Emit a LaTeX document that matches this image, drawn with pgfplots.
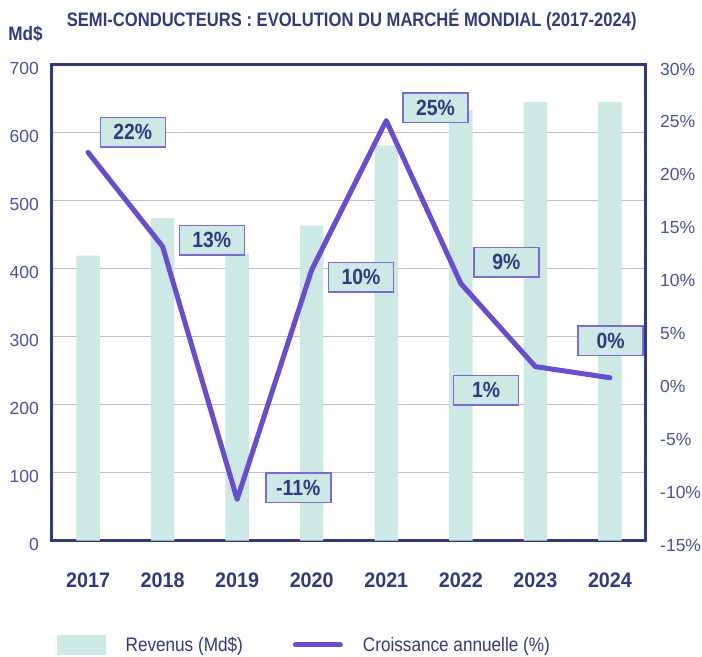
\documentclass[border=0pt]{standalone}
\usepackage{pgfplots}
\pgfplotsset{compat=1.18}
\usepackage{fontspec}
\setmainfont{Liberation Sans}
\newfontfamily\titf{Liberation Sans}[FakeStretch=0.851]
\newfontfamily\tickb{Liberation Sans}[FakeStretch=0.94]
\newfontfamily\mdf{Liberation Sans}[FakeStretch=0.88]
\newfontfamily\labf{Liberation Sans}[FakeStretch=0.88]
\newfontfamily\legf{Liberation Sans}[FakeStretch=0.88]
\usetikzlibrary{calc}
\definecolor{navy}{RGB}{46,58,132}
\definecolor{ticknavy}{RGB}{72,82,152}
\definecolor{lpurple}{RGB}{106,76,212}
\definecolor{bteal}{RGB}{204,233,227}
\definecolor{bpurple}{RGB}{125,105,220}
\definecolor{gridgray}{RGB}{192,192,192}
\tikzset{
  lbl/.style={draw=bpurple, line width=1.5pt, fill=bteal, text=navy,
    minimum width=65pt, minimum height=29.5pt, inner sep=0pt,
    font=\labf\bfseries\fontsize{22}{24}\selectfont}
}
\begin{document}
\begin{tikzpicture}
\pgfplotsset{
  every axis/.append style={width=593.5pt, height=476.2pt, scale only axis,
    xmin=-0.49, xmax=7.47, major tick length=0pt,
    /pgf/number format/assume math mode=true}
}
\begin{axis}[name=ax1,
  ymin=0, ymax=700, ytick={0,100,...,700},
  ymajorgrids, grid style={gridgray, line width=1.2pt},
  axis line style={navy, line width=3pt},
  xtick={0,...,7},
  xticklabels={2017,2018,2019,2020,2021,2022,2023,2024},
  xticklabel style={anchor=center, inner sep=0pt, yshift=-40pt, text=navy,
    font=\tickb\bfseries\fontsize{21}{24}\selectfont},
  yticklabel style={anchor=east, inner sep=0pt, xshift=-12.5pt, yshift=-4pt, text=ticknavy,
    font=\fontsize{17.5}{20}\selectfont},
]
\addplot[ybar, bar width=23.5pt, fill=bteal, draw=none] coordinates {
  (0,419) (1,474) (2,422) (3,463) (4,581) (5,633) (6,645) (7,645)};
\end{axis}
\begin{axis}[
  ymin=-15, ymax=30, ytick={-15,-10,...,30},
  axis x line=none, axis y line*=right,
  y axis line style={draw=none},
  yticklabel={\pgfmathprintnumber{\tick}\%},
  yticklabel style={anchor=west, inner sep=0pt, xshift=15pt, yshift=-4.5pt, text=ticknavy,
    font=\fontsize{17.5}{20}\selectfont},
  clip=false,
  legend style={at={(0.0093,-0.219)}, anchor=west, draw=none, fill=none,
    inner sep=0pt, legend columns=2, text=navy,
    font=\legf\fontsize{19.5}{22}\selectfont,
    nodes={inner sep=0pt},
    /tikz/every odd column/.append style={column sep=20pt},
    /tikz/every even column/.append style={column sep=50pt}},
]
\addlegendimage{legend image code/.code={\fill[bteal] (0pt,-9.5pt) rectangle (48pt,9.5pt);}}
\addlegendentry{Revenus (Md\$)}
\addplot[lpurple, line width=5pt, line join=round, line cap=round,
  legend image code/.code={\draw[lpurple, line width=5pt, line cap=round] (2.5pt,0pt) -- (47.5pt,0pt);}]
  coordinates {(0,21.7) (1,12.8) (2,-11.1) (3,10.6) (4,24.7) (5,9.3) (6,1.45) (7,0.4)};
\addlegendentry{Croissance annuelle (\%)}
\node[lbl] at (axis cs:0.60,23.6) {22\%};
\node[lbl] at (axis cs:1.66,13.4) {13\%};
\node[lbl] at (axis cs:2.82,-10.0) {-11\%};
\node[lbl] at (axis cs:3.66,9.9) {10\%};
\node[lbl] at (axis cs:4.66,25.9) {25\%};
\node[lbl] at (axis cs:5.61,11.3) {9\%};
\node[lbl] at (axis cs:5.34,-0.8) {1\%};
\node[lbl] at (axis cs:7.01,3.9) {0\%};
\end{axis}
\node[text=navy, font=\titf\bfseries\fontsize{19.5}{22}\selectfont, inner sep=0pt]
  at ($(ax1.north west)+(300.2pt,44.2pt)$) {SEMI-CONDUCTEURS : EVOLUTION DU MARCHÉ MONDIAL (2017-2024)};
\node[text=navy, font=\mdf\bfseries\fontsize{19.5}{22}\selectfont, inner sep=0pt]
  at ($(ax1.north west)+(-26pt,30.8pt)$) {Md\$};
\pgfresetboundingbox
\useasboundingbox ($(ax1.south west)+(-51.5pt,-116.3pt)$) rectangle ($(ax1.north east)+(57pt,64.5pt)$);
\end{tikzpicture}
\end{document}
